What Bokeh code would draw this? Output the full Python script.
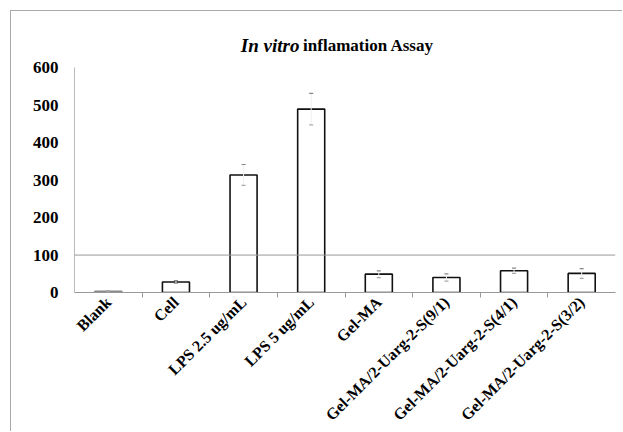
from bokeh.plotting import figure
from bokeh.models import FixedTicker, Span
from bokeh.core.properties import value
from bokeh.embed import file_html
from bokeh.resources import INLINE
import math

categories = ["Blank", "Cell", "LPS 2.5 ug/mL", "LPS 5 ug/mL", "Gel-MA",
              "Gel-MA/2-Uarg-2-S(9/1)", "Gel-MA/2-Uarg-2-S(4/1)", "Gel-MA/2-Uarg-2-S(3/2)"]
values = [3, 28, 314, 490, 49, 40, 58, 51]
errors = [1, 4, 28, 42, 9, 9.5, 7, 13]
y_ticks = [0, 100, 200, 300, 400, 500, 600]
title_parts = ["In vitro", "inflamation Assay"]

n = len(categories)
centers = [i + 0.5 for i in range(n)]
bounds = [i for i in range(1, n)]

p = figure(width=612, height=421, x_range=(0, n), y_range=(0, 700),
           output_backend="svg", toolbar_location=None,
           min_border_left=63, min_border_right=8, min_border_top=19, min_border_bottom=140)
p.styles = {"margin-left": "10px", "margin-top": "10px",
            "border-top": "1px solid #aaaaaa", "border-left": "1px solid #aaaaaa"}
p.outline_line_color = None
p.background_fill_color = "white"
p.border_fill_color = "white"

p.xgrid.visible = False
p.ygrid.visible = False
p.add_layout(Span(location=100, dimension="width", line_color="#999999", line_width=1))

colors = ["#888888"] + ["#111111"] * (n - 1)
p.vbar(x=centers, top=values, bottom=0, width=0.4, fill_color="white",
       line_color=colors, line_width=1.6)

upper = [v + e for v, e in zip(values, errors)]
lower = [v - e for v, e in zip(values, errors)]
p.segment(x0=centers, x1=centers, y0=lower, y1=upper, line_color="#f0f0f0", line_width=1)
p.segment(x0=[c - 0.03 for c in centers], x1=[c + 0.03 for c in centers],
          y0=upper, y1=upper, line_color="#888888", line_width=1.2)
p.segment(x0=[c - 0.03 for c in centers], x1=[c + 0.03 for c in centers],
          y0=lower, y1=lower, line_color="#aaaaaa", line_width=1.2)

# title (mixed styles), placed above the 600 level inside the frame
p.text(x=[2.46], y=[660], text=[title_parts[0]], text_font=value("Liberation Serif"),
       text_font_style="bold italic", text_font_size="19px", text_color="black",
       text_baseline="alphabetic", text_align="left")
p.text(x=[3.38], y=[660], text=[title_parts[1]], text_font=value("Liberation Serif"),
       text_font_style="bold", text_font_size="17px", text_color="black",
       text_baseline="alphabetic", text_align="left")

# x axis
xa = p.xaxis[0]
xa.ticker = FixedTicker(ticks=centers, minor_ticks=bounds)
xa.major_label_overrides = {c: lab for c, lab in zip(centers, categories)}
xa.major_label_orientation = math.pi / 4
xa.major_tick_out = 0
xa.major_tick_in = 0
xa.minor_tick_out = 5
xa.minor_tick_in = 0
xa.minor_tick_line_color = "#999999"
xa.axis_line_color = "#999999"
xa.major_label_text_font = "Liberation Serif"
xa.major_label_text_font_style = "bold"
xa.major_label_text_font_size = "16px"
xa.major_label_text_color = "black"
xa.major_label_standoff = 2

# y axis
ya = p.yaxis[0]
ya.ticker = FixedTicker(ticks=y_ticks)
ya.bounds = (0, 600)
ya.major_tick_out = 0
ya.major_tick_in = 0
ya.minor_tick_out = 0
ya.minor_tick_in = 0
ya.axis_line_color = "#bbbbbb"
ya.major_label_text_font = "Liberation Serif"
ya.major_label_text_font_style = "bold"
ya.major_label_text_font_size = "17px"
ya.major_label_text_color = "black"
ya.major_label_standoff = 16

open("out.html", "w").write(file_html(p, INLINE))
